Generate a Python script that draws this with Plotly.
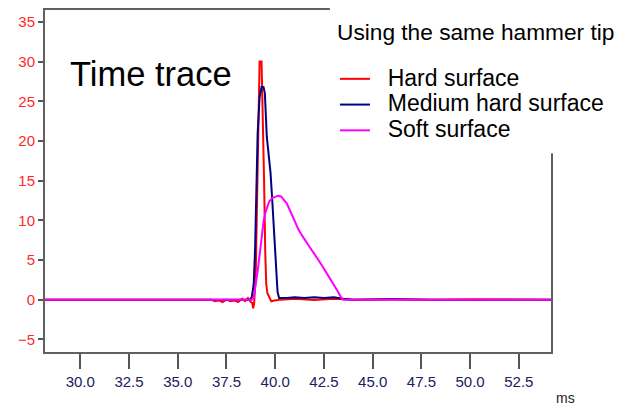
import plotly.graph_objects as go

# ---------------- data ----------------
hard_t = [28.2, 36.7, 36.9, 37.1, 37.3, 37.5, 37.7, 37.9, 38.1, 38.3, 38.45, 38.6, 38.75,
          38.82, 38.87, 38.92, 39.0, 39.08, 39.15, 39.2, 39.3, 39.37, 39.43, 39.49, 39.54,
          39.6, 39.7, 39.8, 39.95, 40.3, 41.0, 42.0, 43.0, 44.0, 46.0, 48.0, 50.0, 52.0, 54.2]
hard_v = [0, 0, -0.2, -0.1, -0.3, 0.0, -0.2, -0.1, -0.3, 0.1, -0.2, 0.2, -0.3,
          -0.4, -1.1, -0.5, 3.0, 14.0, 26.0, 30.0, 30.0, 23.0, 15.0, 6.0, 2.0,
          0.8, 0.2, -0.2, -0.1, 0.0, 0.1, -0.05, 0.1, 0.0, 0.05, 0.0, 0.05, 0.0, 0.0]

medium_t = [28.2, 38.5, 38.7, 38.8, 38.9, 38.97, 39.03, 39.1, 39.2, 39.3, 39.4, 39.47,
            39.57, 39.66, 39.76, 39.85, 39.95, 40.05, 40.12, 40.2, 40.6, 41.0, 41.5,
            42.0, 42.5, 43.0, 43.5, 44.0, 46.0, 48.0, 50.0, 52.0, 54.2]
medium_v = [0, 0, 0.0, 0.3, 2.0, 6.5, 15.0, 21.0, 25.5, 26.8, 26.8, 26.0,
            20.5, 18.3, 16.0, 12.5, 8.0, 3.8, 1.0, 0.2, 0.2, 0.3, 0.2,
            0.3, 0.2, 0.3, 0.1, 0.0, 0.05, 0.0, -0.05, 0.0, 0.0]

soft_t = [28.2, 38.8, 38.9, 39.0, 39.1, 39.2, 39.3, 39.4, 39.5, 39.6, 39.7, 39.85,
          40.0, 40.15, 40.3, 40.45, 40.6, 40.75, 40.9, 41.05, 41.2, 41.4, 41.6, 41.8,
          42.0, 42.2, 42.4, 42.6, 42.8, 43.0, 43.2, 43.4, 43.5, 46.0, 50.0, 54.2]
soft_v = [0, 0, 0.3, 1.8, 3.6, 5.6, 8.0, 9.8, 11.0, 11.8, 12.4, 12.8,
          13.0, 13.1, 13.0, 12.6, 12.1, 11.3, 10.5, 9.6, 8.8, 8.0, 7.2, 6.5,
          5.8, 5.1, 4.3, 3.5, 2.7, 2.0, 1.1, 0.2, 0.0, 0.0, 0.0, 0.0]

series_names = ["Hard surface", "Medium hard surface", "Soft surface"]
series_colors = ["#ff0000", "#000080", "#ff00ff"]

x_ticks = [30.0, 32.5, 35.0, 37.5, 40.0, 42.5, 45.0, 47.5, 50.0, 52.5]
y_ticks = [-5, 0, 5, 10, 15, 20, 25, 30, 35]

FONT = "Arial, 'Liberation Sans', sans-serif"

fig = go.Figure()
for t, v, name, col in zip([hard_t, medium_t, soft_t], [hard_v, medium_v, soft_v],
                           series_names, series_colors):
    fig.add_trace(go.Scatter(
        x=t, y=v, mode="lines", line=dict(color=col, width=2),
        name='<span style="font-size:23px">\u00a0\u00a0' + name + '</span>'))

fig.update_layout(
    width=632, height=411,
    margin=dict(l=45, r=81, t=8, b=59),
    paper_bgcolor="white", plot_bgcolor="white",
    font=dict(family=FONT, size=15, color="black"),
    showlegend=True,
    legend=dict(x=0.573, xanchor="left", y=0.851, yanchor="top",
                bgcolor="rgba(0,0,0,0)", borderwidth=0,
                font=dict(family=FONT, size=17.5, color="black"),
                itemwidth=30),
    xaxis=dict(range=[28.19, 54.15], tickvals=x_ticks, tickformat=".1f",
               ticks="outside", ticklen=15, tickwidth=1.5, tickcolor="#555",
               showline=True, linecolor="#606060", linewidth=2, mirror=True,
               showgrid=False, zeroline=False,
               tickfont=dict(family=FONT, size=15, color="#202060")),
    yaxis=dict(range=[-6.6, 36.5], tickvals=y_ticks,
               ticks="outside", ticklen=5, tickwidth=1.5, tickcolor="#555",
               showline=True, linecolor="#606060", linewidth=2, mirror=True,
               showgrid=False, zeroline=False,
               tickfont=dict(family=FONT, size=15, color="#ff2a2a")),
    shapes=[dict(type="rect", xref="paper", yref="paper",
                 x0=0.563, x1=1.3, y0=0.5814, y1=1.2,
                 fillcolor="white", line=dict(width=0), layer="above")],
    annotations=[
        dict(text="Time trace", xref="paper", yref="paper", x=0.045, y=0.814,
             xanchor="left", yanchor="middle", showarrow=False,
             font=dict(family=FONT, size=34.5, color="black")),
        dict(text="Using the same hammer tip", xref="paper", yref="paper",
             x=(335 - 45) / 506, y=(352 - 30) / 344,
             xanchor="left", yanchor="middle", showarrow=False,
             font=dict(family=FONT, size=22.7, color="black")),
        dict(text="ms", xref="paper", yref="paper",
             x=(565 - 45) / 506, y=(352 - 398) / 344,
             xanchor="center", yanchor="middle", showarrow=False,
             font=dict(family=FONT, size=14, color="#222")),
    ],
)

fig.write_html("out.html", config={"displayModeBar": False},
               post_script="document.body.style.margin='0';")
